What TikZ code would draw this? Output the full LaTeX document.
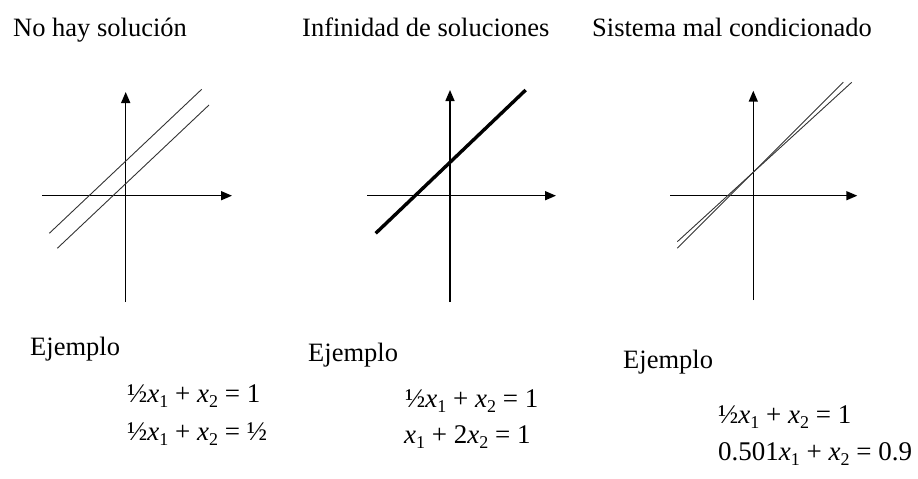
\documentclass[tikz,border=0pt]{standalone}
\usepackage{fontspec}
\setmainfont{Liberation Serif}
\usetikzlibrary{arrows.meta}
\newcommand{\sbx}[1]{\raisebox{-5.5pt}{\fontsize{18}{18}\selectfont #1}}
\newcommand{\vx}{\textit{x}}
\begin{document}
\begin{tikzpicture}[x=1pt,y=-1pt,
 axis/.style={line width=1.5pt,-{Triangle[length=11pt,width=9pt]}},
 thinln/.style={line width=0.9pt, black!80},
 thickln/.style={line width=3.4pt},
 ttl/.style={anchor=base west, inner sep=0, font=\fontsize{26.5}{30}\selectfont},
 eqn/.style={anchor=base west, inner sep=0, font=\fontsize{27}{30}\selectfont}]
\useasboundingbox (0,0) rectangle (918,479);
% titles
\node[ttl] (t1) at (13,36.7) {No hay solución};
\node[ttl] (t2) at (302,36.7) {Infinidad de soluciones};
\node[ttl] (t3) at (592,36.7) {Sistema mal condicionado};
% graph 1
\coordinate (a1b) at (125.7,302); \coordinate (a1t) at (125.7,92);
\coordinate (a1l) at (42,195.7); \coordinate (a1r) at (232,195.7);
\draw[axis] (a1b) -- (a1t);
\draw[axis] (a1l) -- (a1r);
\coordinate (l1a) at (49.3,233.3); \coordinate (l1b) at (201.7,89.3);
\coordinate (l2a) at (57.3,248.3); \coordinate (l2b) at (209,105);
\draw[thinln] (l1a) -- (l1b);
\draw[thinln] (l2a) -- (l2b);
% graph 2
\coordinate (a2b) at (450,302); \coordinate (a2t) at (450,90);
\coordinate (a2l) at (367,195.7); \coordinate (a2r) at (556,195.7);
\draw[axis] (a2b) -- (a2t);
\draw[axis] (a2l) -- (a2r);
\coordinate (m1a) at (375.7,233.3); \coordinate (m1b) at (525.7,90);
\draw[thickln] (m1a) -- (m1b);
% graph 3
\coordinate (a3b) at (753.3,300); \coordinate (a3t) at (753.3,90.7);
\coordinate (a3l) at (670,195.7); \coordinate (a3r) at (857.3,195.7);
\draw[axis] (a3b) -- (a3t);
\draw[axis] (a3l) -- (a3r);
\coordinate (n1a) at (677.3,241.7); \coordinate (n1b) at (851.7,82.3);
\coordinate (n2a) at (677.3,248.3); \coordinate (n2b) at (843.3,82.3);
\draw[thinln] (n1a) -- (n1b);
\draw[thinln] (n2a) -- (n2b);
% examples
\node[ttl] (e1) at (30,355) {Ejemplo};
\node[ttl] (e2) at (308,361.7) {Ejemplo};
\node[ttl] (e3) at (623,368) {Ejemplo};
\node[eqn] (q11) at (127,402) {½\vx\sbx{1} + \vx\sbx{2} = 1};
\node[eqn] (q12) at (127,440) {½\vx\sbx{1} + \vx\sbx{2} = ½};
\node[eqn] (q21) at (405,407) {½\vx\sbx{1} + \vx\sbx{2} = 1};
\node[eqn] (q22) at (404,443) {\vx\sbx{1} + 2\vx\sbx{2} = 1};
\node[eqn] (q31) at (718,423) {½\vx\sbx{1} + \vx\sbx{2} = 1};
\node[eqn] (q32) at (718,460) {0.501\vx\sbx{1} + \vx\sbx{2} = 0.9};
\end{tikzpicture}
\end{document}
